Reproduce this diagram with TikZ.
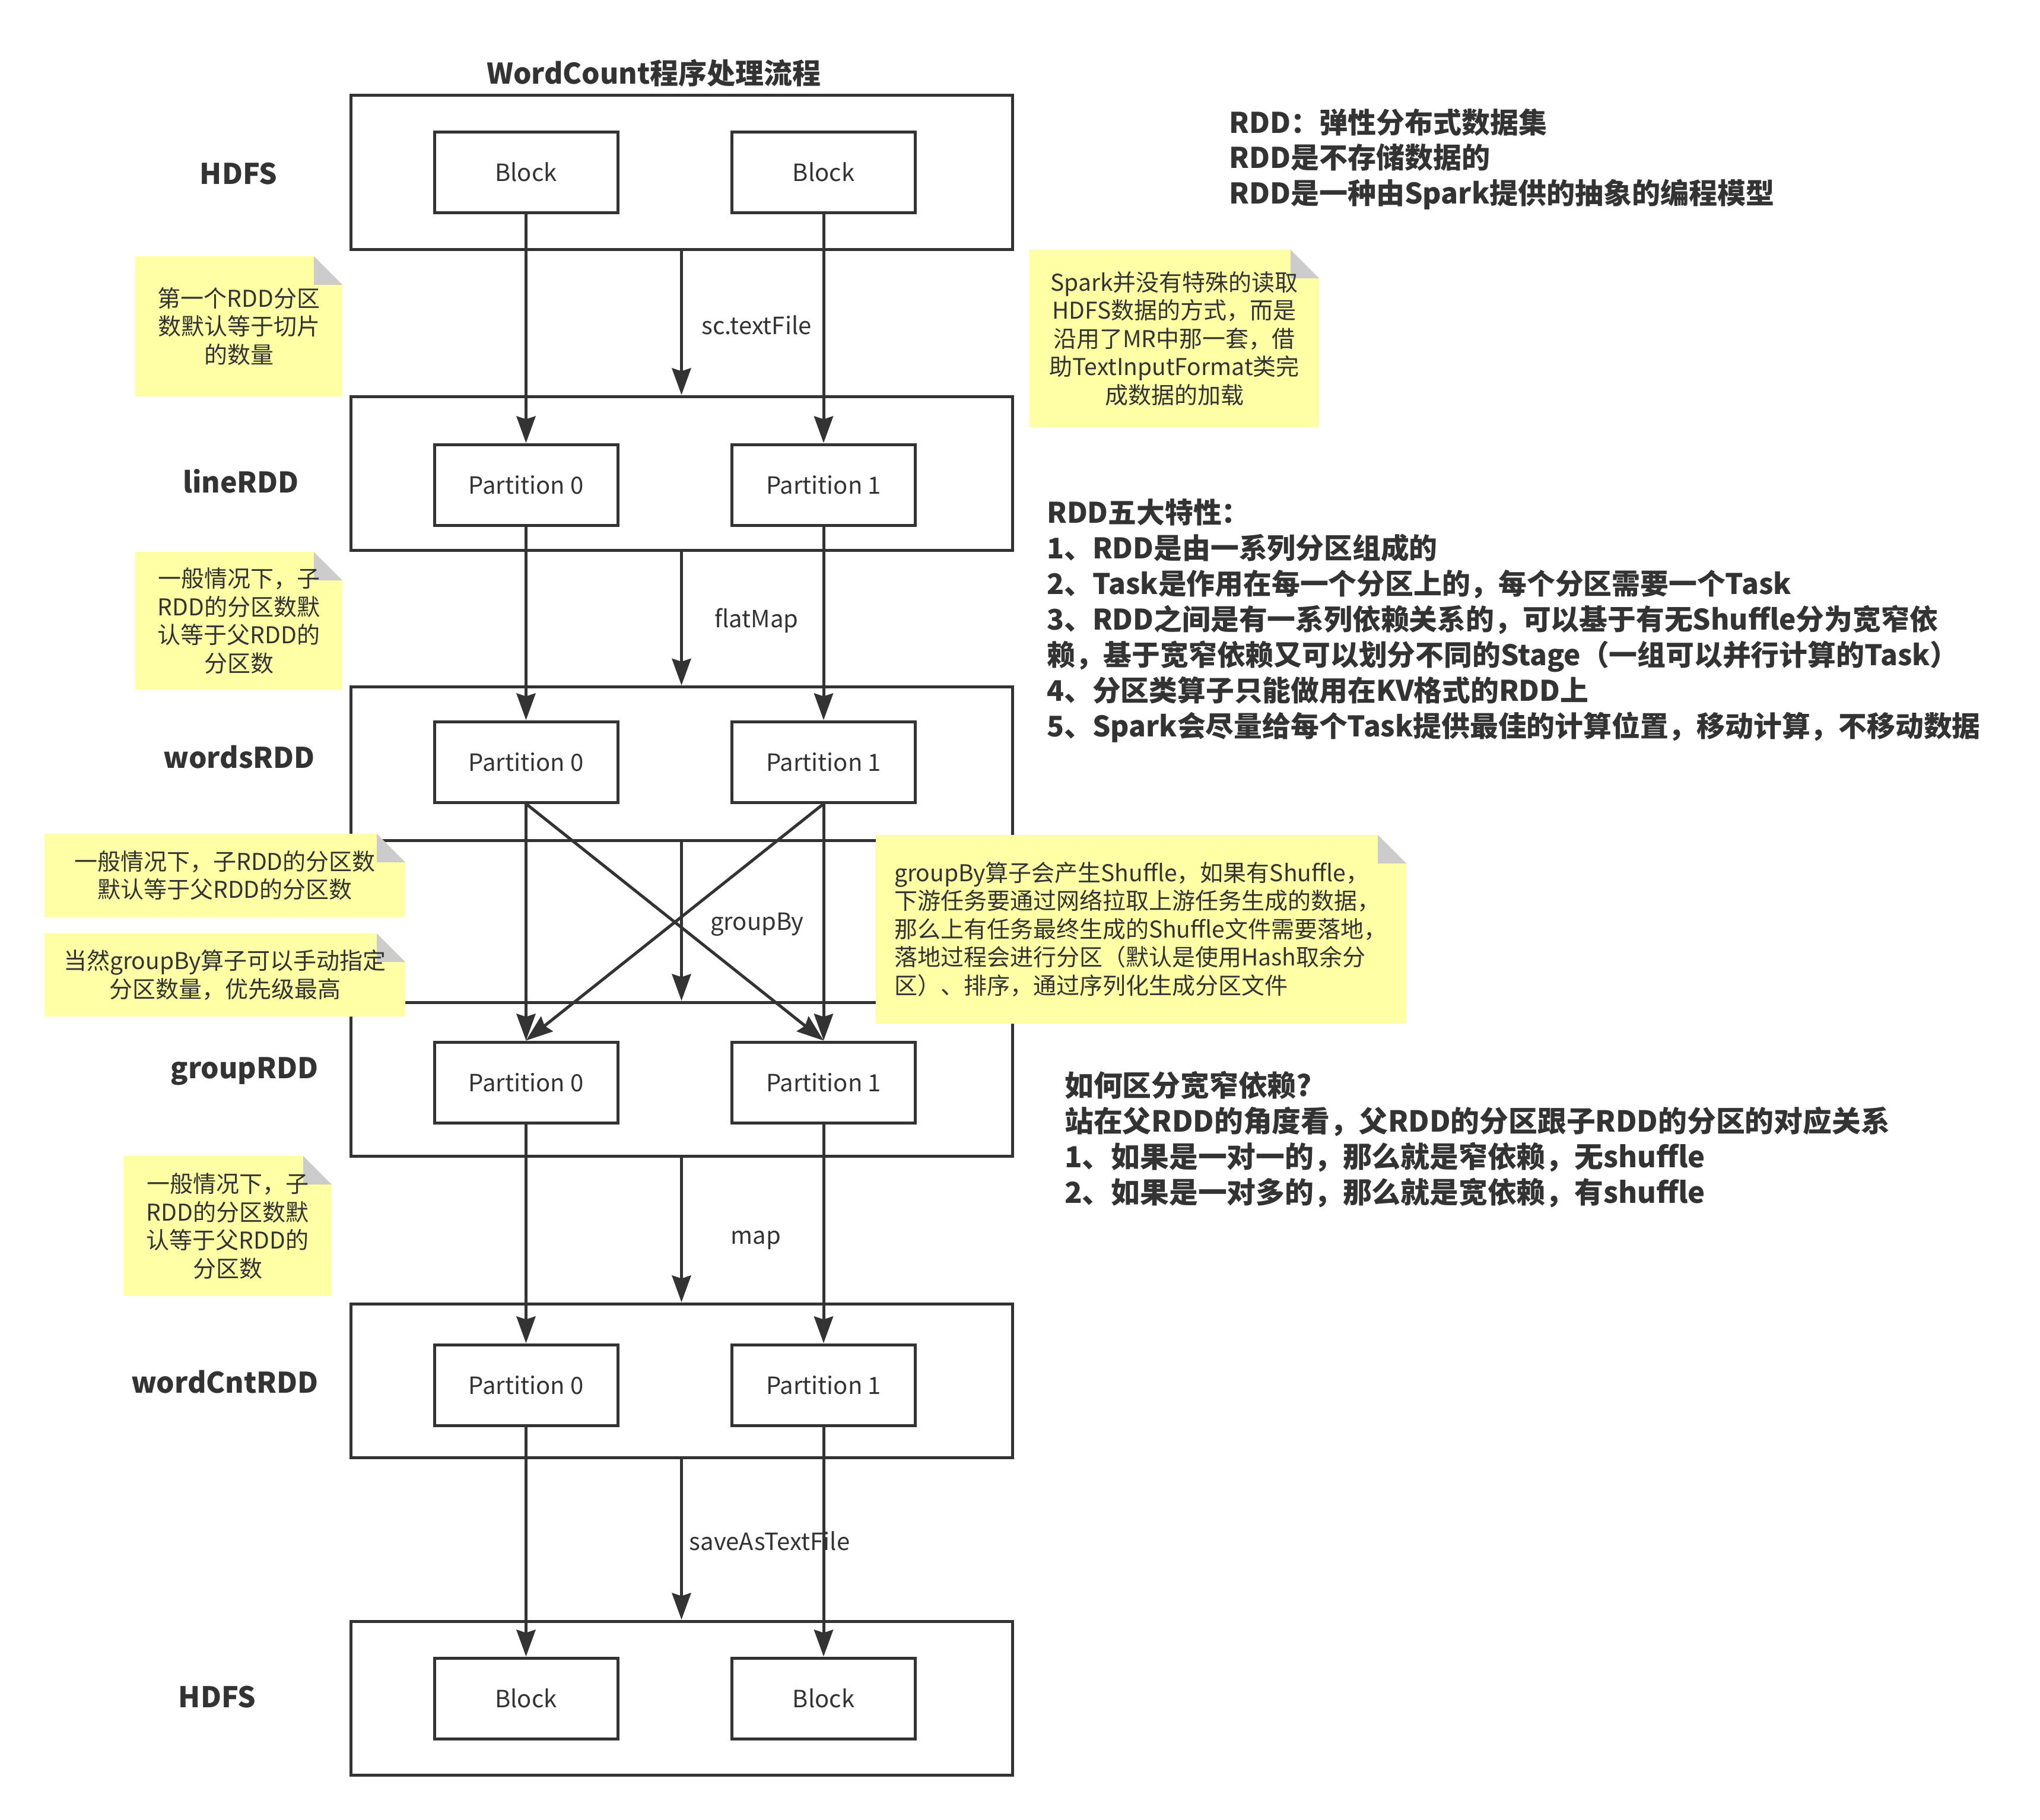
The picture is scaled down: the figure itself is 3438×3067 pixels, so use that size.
\documentclass[tikz,border=0pt]{standalone}
\usepackage{fontspec}
\setmainfont{Noto Sans CJK SC}
\usetikzlibrary{arrows.meta}
\definecolor{ln}{HTML}{333333}
\definecolor{notefill}{HTML}{FFFFA6}
\definecolor{foldc}{HTML}{CCCCCC}
\begin{document}
\begin{tikzpicture}[x=1pt,y=-1pt,
 outer/.style={draw=ln, line width=5pt, minimum width=1115pt, minimum height=259pt, inner sep=0pt},
 part/.style={draw=ln, line width=5pt, fill=white, minimum width=309pt, minimum height=136pt, inner sep=0pt, text=ln, font=\fontsize{40}{48}\selectfont},
 arr/.style={draw=ln, line width=5pt, -{Stealth[length=45pt,width=32pt,inset=5pt]}},
 lbl/.style={text=ln, inner sep=0pt, font=\fontsize{40}{48}\selectfont},
 rowlbl/.style={text=ln, inner sep=0pt, font=\bfseries\fontsize{48}{58}\selectfont},
 note/.style={inner sep=0pt, text=ln, align=center, font=\fontsize{39}{47.5}\selectfont,
   path picture={
    \fill[notefill] (path picture bounding box.south west) -- (path picture bounding box.north west)
      -- ([xshift=-48pt]path picture bounding box.north east) -- ([yshift=-48pt]path picture bounding box.north east)
      -- (path picture bounding box.south east) -- cycle;
    \fill[foldc] ([xshift=-48pt]path picture bounding box.north east) -- ([xshift=-48pt,yshift=-48pt]path picture bounding box.north east)
      -- ([yshift=-48pt]path picture bounding box.north east) -- cycle;}},
 info/.style={text=ln, inner sep=0pt, align=left, anchor=west}
]
\fill[white] (0,0) rectangle (3438,3067);
\useasboundingbox (0,0) rectangle (3438,3067);

% title
\node[text=ln, inner sep=0pt, font=\bfseries\fontsize{48}{58}\selectfont] (title) at (1102,123) {WordCount程序处理流程};

% outer boxes
\node[outer] (o1) at (1148.5,290.5) {};
\node[outer] (o2) at (1148.5,797.5) {};
\node[outer] (o3) at (1148.5,1287) {};
\node[outer] (o4) at (1148.5,1818.5) {};
\node[outer] (o5) at (1148.5,2326.5) {};
\node[outer] (o6) at (1148.5,2861.5) {};

% partition / block boxes
\node[part] (a1) at (886.5,290) {Block};
\node[part] (b1) at (1388,290) {Block};
\node[part] (a2) at (886.5,817) {Partition 0};
\node[part] (b2) at (1388,817) {Partition 1};
\node[part] (a3) at (886.5,1284) {Partition 0};
\node[part] (b3) at (1388,1284) {Partition 1};
\node[part] (a4) at (886.5,1824) {Partition 0};
\node[part] (b4) at (1388,1824) {Partition 1};
\node[part] (a5) at (886.5,2334) {Partition 0};
\node[part] (b5) at (1388,2334) {Partition 1};
\node[part] (a6) at (886.5,2862) {Block};
\node[part] (b6) at (1388,2862) {Block};

% row labels
\node[rowlbl] (r1) at (402,293) {HDFS};
\node[rowlbl] (r2) at (406,811) {lineRDD};
\node[rowlbl] (r3) at (403,1276) {wordsRDD};
\node[rowlbl] (r4) at (412,1805) {groupRDD};
\node[rowlbl] (r5) at (379,2329) {wordCntRDD};
\node[rowlbl] (r6) at (366,2860) {HDFS};

% arrows
\draw[arr] (a1.south) -- (a2.north);
\draw[arr] (b1.south) -- (b2.north);
\draw[arr] (o1.south) -- (o2.north);
\draw[arr] (a2.south) -- (a3.north);
\draw[arr] (b2.south) -- (b3.north);
\draw[arr] (o2.south) -- (o3.north);
\draw[arr] (a3.south) -- (a4.north);
\draw[arr] (b3.south) -- (b4.north);
\draw[arr] (a3.south) -- (b4.north);
\draw[arr] (b3.south) -- (a4.north);
\draw[arr] (o3.south) -- (o4.north);
\draw[arr] (a4.south) -- (a5.north);
\draw[arr] (b4.south) -- (b5.north);
\draw[arr] (o4.south) -- (o5.north);
\draw[arr] (a5.south) -- (a6.north);
\draw[arr] (b5.south) -- (b6.north);
\draw[arr] (o5.south) -- (o6.north);

% arrow labels
\node[lbl] (l1) at (1275,548) {sc.textFile};
\node[lbl] (l2) at (1275,1046) {flatMap};
\node[lbl] (l3) at (1276,1558) {groupBy};
\node[lbl] (l4) at (1274,2090) {map};
\node[lbl] (l5) at (1297,2597) {saveAsTextFile};

% notes
\node[note, minimum width=349pt, minimum height=236pt] (n1) at (402.5,550) {第一个RDD分区\\数默认等于切片\\的数量};
\node[note, minimum width=349pt, minimum height=232pt] (n2) at (402.5,1046) {一般情况下，子\\RDD的分区数默\\认等于父RDD的\\分区数};
\node[note, minimum width=608pt, minimum height=140pt] (n3) at (379,1475) {一般情况下，子RDD的分区数\\默认等于父RDD的分区数};
\node[note, minimum width=608pt, minimum height=140pt] (n4) at (379,1643) {当然groupBy算子可以手动指定\\分区数量，优先级最高};
\node[note, minimum width=351pt, minimum height=236pt] (n5) at (383.5,2066) {一般情况下，子\\RDD的分区数默\\认等于父RDD的\\分区数};
\node[note, minimum width=488pt, minimum height=299pt] (n6) at (1979,570.5) {Spark并没有特殊的读取\\HDFS数据的方式，而是\\沿用了MR中那一套，借\\助TextInputFormat类完\\成数据的加载};
\node[note, minimum width=894pt, minimum height=318pt, text width=832pt, align=left] (n7) at (1923,1566) {groupBy算子会产生Shuffle，如果有Shuffle，\\下游任务要通过网络拉取上游任务生成的数据，\\那么上有任务最终生成的Shuffle文件需要落地，\\落地过程会进行分区（默认是使用Hash取余分\\区）、排序，通过序列化生成分区文件};

% info texts
\node[info, font=\bfseries\fontsize{48}{59.5}\selectfont] (t1) at (2071,268) {RDD：弹性分布式数据集\\RDD是不存储数据的\\RDD是一种由Spark提供的抽象的编程模型};
\node[info, font=\bfseries\fontsize{47.8}{60}\selectfont] (t2) at (1764,1046) {RDD五大特性：\\1、RDD是由一系列分区组成的\\2、Task是作用在每一个分区上的，每个分区需要一个Task\\3、RDD之间是有一系列依赖关系的，可以基于有无Shuffle分为宽窄依\\赖，基于宽窄依赖又可以划分不同的Stage（一组可以并行计算的Task）\\4、分区类算子只能做用在KV格式的RDD上\\5、Spark会尽量给每个Task提供最佳的计算位置，移动计算，不移动数据};
\node[info, font=\bfseries\fontsize{48.8}{60}\selectfont] (t3) at (1794,1920) {如何区分宽窄依赖?\\站在父RDD的角度看，父RDD的分区跟子RDD的分区的对应关系\\1、如果是一对一的，那么就是窄依赖，无shuffle\\2、如果是一对多的，那么就是宽依赖，有shuffle};
\end{tikzpicture}
\end{document}
